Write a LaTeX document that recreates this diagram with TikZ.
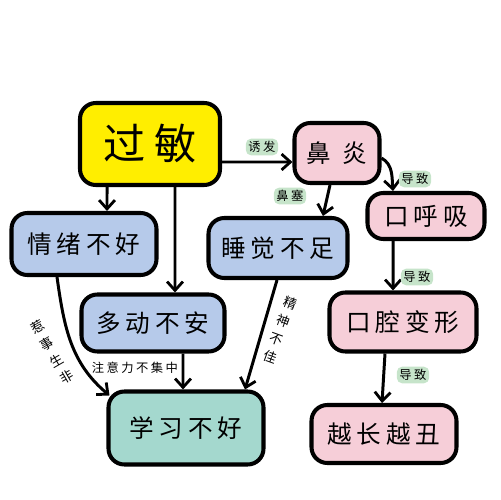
\documentclass[tikz,border=0pt]{standalone}
\usepackage{fontspec}
\setmainfont[LetterSpace=20]{Noto Sans CJK SC}
\usetikzlibrary{arrows.meta}
\definecolor{yelw}{RGB}{255,238,0}
\definecolor{pnk}{RGB}{246,206,216}
\definecolor{blu}{RGB}{182,202,234}
\definecolor{tea}{RGB}{164,216,206}
\definecolor{tagg}{RGB}{198,228,202}

\begin{document}
\begin{tikzpicture}[x=0.02cm, y=0.02cm,
  b/.style={draw, line width=2.3pt, rounded corners=9pt, inner sep=0pt, font=\fontsize{14}{16}\selectfont},
  t/.style={fill=tagg, rounded corners=3pt, inner sep=1.5pt, font=\fontsize{7}{8}\selectfont},
  v/.style={align=center, inner sep=0pt, font=\fontsize{7.5}{11}\selectfont},
  a/.style={-{Straight Barb[length=5pt, width=9pt, line width=1.6pt]}, line width=1.7pt}]
  \useasboundingbox (0,0) rectangle (500,-500);
  % boxes
  \node[b, fill=yelw, minimum width=2.8cm, minimum height=1.64cm, font=\fontsize{24}{26}\selectfont] (gm) at (150,-144) {过敏};
  \node[b, fill=pnk, minimum width=1.7cm, minimum height=1.2cm] (by) at (337,-153) {鼻\hspace{0.22cm}炎};
  \node[b, fill=pnk, minimum width=2.34cm, minimum height=0.92cm] (kh) at (426,-216) {口呼吸};
  \node[b, fill=pnk, minimum width=2.94cm, minimum height=1.18cm] (kq) at (403,-322) {口腔变形};
  \node[b, fill=pnk, minimum width=2.9cm, minimum height=1.16cm] (yc) at (384,-434) {越长越丑};
  \node[b, fill=blu, minimum width=2.9cm, minimum height=1.24cm] (qx) at (84,-244) {情绪不好};
  \node[b, fill=blu, minimum width=2.78cm, minimum height=1.2cm] (sj) at (278,-248) {睡觉不足};
  \node[b, fill=blu, minimum width=2.86cm, minimum height=1.14cm] (dd) at (153,-323) {多动不安};
  \node[b, fill=tea, minimum width=3.1cm, minimum height=1.46cm] (xx) at (186,-428) {学习不好};
  % arrows
  \draw[a] ([yshift=-0.36cm]gm.east) -- ([yshift=-0.18cm]by.west);
  \draw[a] ([xshift=-0.86cm]gm.south) -- ([xshift=0.46cm]qx.north);
  \draw[a] ([xshift=0.5cm]gm.south) -- ([xshift=0.44cm]dd.north);
  \draw[a] ([xshift=-0.14cm]by.south) -- ([xshift=0.9cm]sj.north);
  \draw[a] ([yshift=-0.1cm]by.east) to[out=-30, in=95] ([xshift=-0.66cm]kh.north);
  \draw[a] ([xshift=-0.66cm]kh.south) -- ([xshift=-0.2cm]kq.north);
  \draw[a] ([xshift=-0.36cm]kq.south) -- ([xshift=-0.04cm]yc.north);
  \draw[a] ([xshift=-0.54cm]qx.south) to[out=-82, in=140] ([xshift=0.06cm, yshift=-0.12cm]xx.north west);
  \draw[a] ([xshift=0.6cm]dd.south) -- ([xshift=-0.06cm]xx.north);
  \draw[a] ([xshift=-0.02cm]sj.south) -- ([xshift=1.18cm]xx.north);
  % labels
  \node[t] (l1) at (262,-147) {诱发};
  \node[t] (l2) at (290,-196) {鼻塞};
  \node[t] (l3) at (415,-179) {导致};
  \node[t] (l4) at (417,-277) {导致};
  \node[t] (l5) at (413,-375) {导致};
  \node[font=\fontsize{7}{8}\selectfont, inner sep=0pt] (l6) at (135,-368) {注意力不集中};
  \node[v, rotate=30] (l7) at (52,-352) {惹\\事\\生\\非};
  \node[v, rotate=-20] (l8) at (280,-330) {精\\神\\不\\佳};
\end{tikzpicture}
\end{document}
